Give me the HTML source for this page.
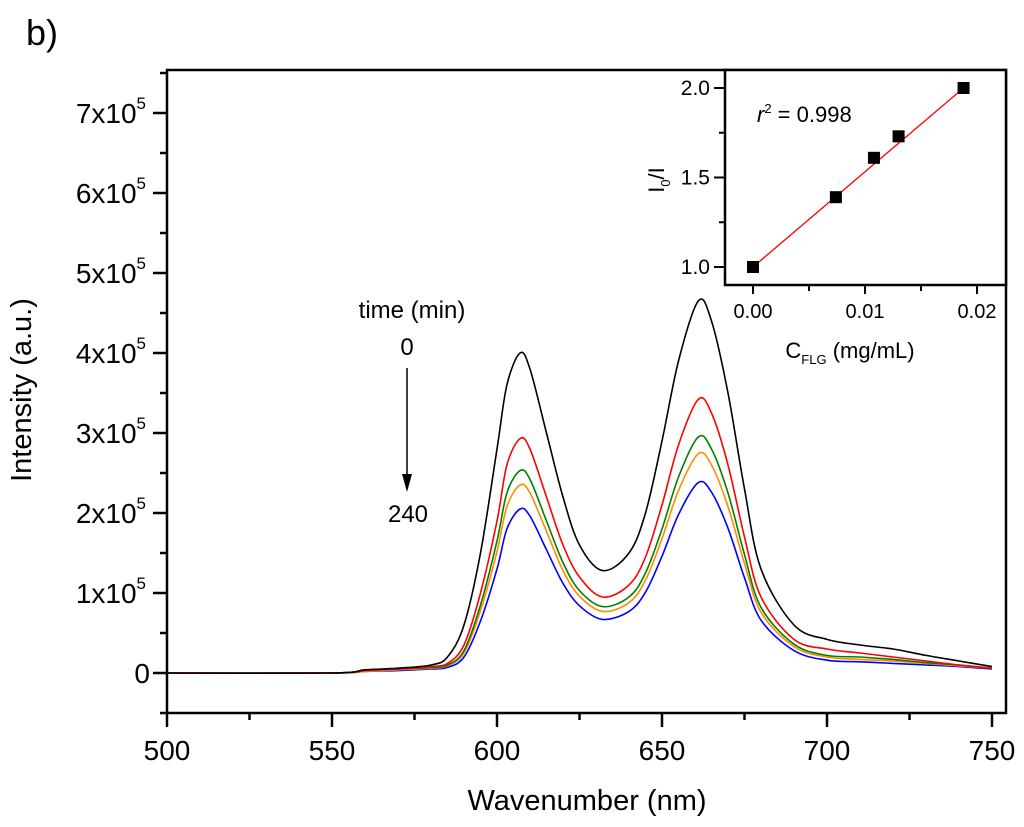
<!DOCTYPE html>
<html><head><meta charset="utf-8"><style>
body{margin:0;background:#fff}
svg text{font-family:"Liberation Sans",Arial,sans-serif;fill:#000}
</style></head><body>
<svg id="chart" width="1024" height="822" viewBox="0 0 1024 822" xmlns="http://www.w3.org/2000/svg">
<text x="26" y="45" font-size="36">b)</text>
<g id="main"></g>
<g id="inset"></g>
</svg>
<script>
const wl=[500,550,560,570,580,585,590,595,600,603,607,610,615,620,625,632,640,645,650,655,661,665,670,675,680,690,700,710,720,730,740,750];
const s0=[0,0,0.04,0.06,0.1,0.2,0.6,1.5,2.8,3.6,4.0,3.8,3.0,2.2,1.6,1.28,1.5,2.0,2.9,3.9,4.65,4.4,3.5,2.3,1.3,0.6,0.42,0.35,0.3,0.22,0.15,0.08];
const s1=[0,0,0.03,0.05,0.08,0.12,0.35,1.0,1.9,2.6,2.93,2.8,2.2,1.6,1.2,0.95,1.1,1.45,2.1,2.85,3.42,3.25,2.6,1.7,0.95,0.42,0.3,0.25,0.2,0.15,0.1,0.06];
const s2=[0,0,0.03,0.05,0.07,0.1,0.28,0.85,1.65,2.25,2.53,2.42,1.9,1.38,1.03,0.83,0.95,1.25,1.8,2.45,2.95,2.8,2.25,1.48,0.82,0.36,0.22,0.2,0.17,0.13,0.1,0.06];
const s3=[0,0,0.02,0.04,0.06,0.09,0.25,0.78,1.52,2.08,2.35,2.25,1.77,1.28,0.96,0.77,0.88,1.16,1.68,2.28,2.74,2.6,2.08,1.37,0.76,0.33,0.2,0.17,0.15,0.12,0.09,0.06];
const s4=[0,0,0.02,0.03,0.05,0.07,0.2,0.65,1.3,1.8,2.05,1.96,1.54,1.12,0.84,0.67,0.77,1.01,1.46,1.98,2.38,2.26,1.81,1.19,0.66,0.28,0.16,0.14,0.12,0.1,0.08,0.05];
const seriesColors=["#000","#f00","#008000","#ff8c00","#00f"];
const xTicks=[500,550,600,650,700,750];
const yTicks=[0,1,2,3,4,5,6,7];
const cx=[0,0.0074,0.0108,0.013,0.0188];
const cy=[1.0,1.39,1.61,1.73,2.0];
const fitX=[0,0.0188];
const fitY=[1.0,2.0];
const ixTicks=[0,0.01,0.02];
const iyTicks=[1.0,1.5,2.0];

const NS="http://www.w3.org/2000/svg";
function mk(p,t,a){const e=document.createElementNS(NS,t);for(const k in a)e.setAttribute(k,a[k]);p.appendChild(e);return e;}
const X=v=>167+(v-500)*3.3;
const Y=v=>673-v*80;
function smooth(pts){let d='M'+pts[0][0].toFixed(1)+','+pts[0][1].toFixed(1);
 for(let i=0;i<pts.length-1;i++){const p0=pts[i-1]||pts[i],p1=pts[i],p2=pts[i+1],p3=pts[i+2]||p2;
  const c1=[p1[0]+(p2[0]-p0[0])/6,p1[1]+(p2[1]-p0[1])/6],c2=[p2[0]-(p3[0]-p1[0])/6,p2[1]-(p3[1]-p1[1])/6];
  d+='C'+c1.map(n=>n.toFixed(1))+' '+c2.map(n=>n.toFixed(1))+' '+p2[0].toFixed(1)+','+p2[1].toFixed(1);}
 return d;}
const main=document.getElementById('main');
let f=mk(main,'rect',{x:167,y:70,width:839,height:643,fill:'none',stroke:'#000','stroke-width':2.5});


const all=[s0,s1,s2,s3,s4];
all.slice().reverse().forEach((s,ri)=>{const i=4-ri;
 const d=smooth(s.map((v,j)=>[X(wl[j]),Y(v)]));
 const p=mk(main,'path',{d:d,fill:'none',stroke:seriesColors[i],'stroke-width':1.6,'stroke-linejoin':'round'});
 
 
});
for(let v=500;v<=750;v+=25){const mj=xTicks.includes(v);
 const t=mk(main,'line',{x1:X(v),x2:X(v),y1:713,y2:mj?727:720,stroke:'#000','stroke-width':2.5});
 
 }
xTicks.forEach(v=>{const t=mk(main,'text',{x:X(v),y:760,'font-size':28,'text-anchor':'middle'});t.textContent=v;
 
 });
for(let v=-0.5;v<=7.5;v+=0.5){const mj=Number.isInteger(v)&&v>=0;
 const t=mk(main,'line',{x1:mj?153:160,x2:167,y1:Y(v),y2:Y(v),stroke:'#000','stroke-width':2.5});
 
 }
yTicks.forEach(v=>{const t=mk(main,'text',{x:v===0?150:146,y:Y(v)+10,'font-size':28,'text-anchor':'end'});
 if(v===0){t.textContent='0';}else{t.innerHTML=v+'x10<tspan dy="-14" font-size="17">5</tspan>';}
 
 });
let xt=mk(main,'text',{x:587,y:810,'font-size':29,'text-anchor':'middle'});xt.textContent='Wavenumber (nm)';


let yt=mk(main,'text',{x:0,y:0,'font-size':29,'text-anchor':'middle',transform:'translate(31,390) rotate(-90)'});yt.textContent='Intensity (a.u.)';


let a1=mk(main,'text',{x:412,y:318,'font-size':24,'text-anchor':'middle'});a1.textContent='time (min)';


let a2=mk(main,'text',{x:407,y:355,'font-size':24,'text-anchor':'middle'});a2.textContent='0';


let ar=mk(main,'line',{x1:407,y1:368,x2:407,y2:478,stroke:'#000','stroke-width':1.5});


let ah=mk(main,'path',{d:'M402,474 L412,474 L407,492 Z',fill:'#000'});


let a3=mk(main,'text',{x:408,y:522,'font-size':24,'text-anchor':'middle'});a3.textContent='240';



const ins=document.getElementById('inset');
const IX=v=>753+v*11200;
const IY=v=>267-(v-1)*179;
let bg=mk(ins,'rect',{x:725,y:70,width:281,height:215,fill:'#fff',stroke:'#000','stroke-width':2.5});


let fl=mk(ins,'line',{x1:IX(fitX[0]),y1:IY(fitY[0]),x2:IX(fitX[1]),y2:IY(fitY[1]),stroke:'#f00','stroke-width':1.3});


cx.forEach((v,i)=>{const r=mk(ins,'rect',{x:IX(v)-6,y:IY(cy[i])-6,width:12,height:12,fill:'#000'});
 
 });
for(let v=0;v<=0.0201;v+=0.005){const mj=Math.abs(v*100-Math.round(v*100))<1e-6;
 const t=mk(ins,'line',{x1:IX(v),x2:IX(v),y1:285,y2:mj?294:291,stroke:'#000','stroke-width':2});
 
 }
ixTicks.forEach(v=>{const t=mk(ins,'text',{x:IX(v),y:318,'font-size':20,'text-anchor':'middle'});t.textContent=v.toFixed(2);
 
 });
for(let v=1.0;v<=2.001;v+=0.25){const mj=Math.abs(v*2-Math.round(v*2))<1e-6;
 const t=mk(ins,'line',{x1:mj?714:719,x2:725,y1:IY(v),y2:IY(v),stroke:'#000','stroke-width':2});
 
 }
iyTicks.forEach(v=>{const t=mk(ins,'text',{x:710,y:IY(v)+7,'font-size':21,'text-anchor':'end'});t.textContent=v.toFixed(1);
 
 });
let r2=mk(ins,'text',{x:757,y:122,'font-size':22});r2.innerHTML='<tspan font-style="italic">r</tspan><tspan dy="-9" font-size="13">2</tspan><tspan dy="9"> = 0.998</tspan>';


let ixt=mk(ins,'text',{x:850,y:358,'font-size':22,'text-anchor':'middle'});ixt.innerHTML='C<tspan dy="6" font-size="13">FLG</tspan><tspan dy="-6"> (mg/mL)</tspan>';


let iyt=mk(ins,'text',{x:0,y:0,'font-size':22,'text-anchor':'middle',transform:'translate(664,180) rotate(-90)'});iyt.innerHTML='I<tspan dy="6" font-size="13">0</tspan><tspan dy="-6">/I</tspan>';


</script>
</body></html>
